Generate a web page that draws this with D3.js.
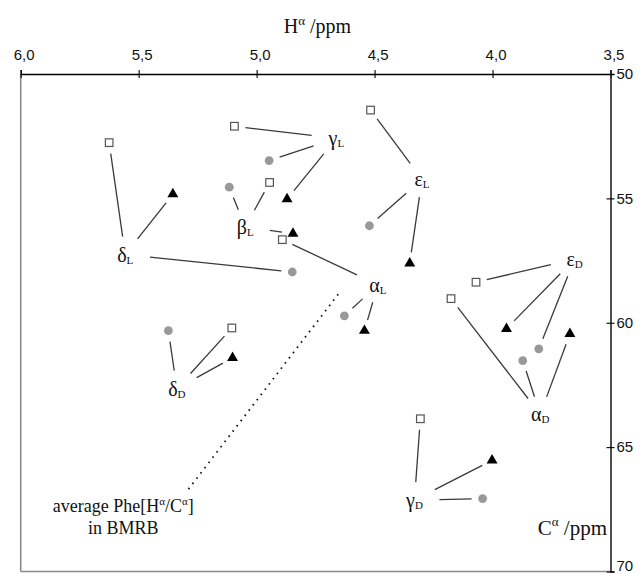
<!DOCTYPE html>
<html>
<head>
<meta charset="utf-8">
<script src="https://cdn.jsdelivr.net/npm/d3@7/dist/d3.min.js"></script>
<style>
  body { margin: 0; background: #fff; }
  svg { display: block; }
</style>
</head>
<body>
<svg id="chart" width="642" height="574"></svg>
<script>
// Conformer groups (one label per group, each tied to three markers)
const groupGreek = ["α", "β", "γ", "δ", "ε", "α", "γ", "δ", "ε"];
const groupSub   = ["L", "L", "L", "L", "L", "D", "D", "D", "D"];

// Label anchor (Hα ppm, Cα ppm) of each group name
const labelH = [4.486, 5.048, 4.662, 5.557, 4.299, 3.798, 4.331, 5.338, 3.652];
const labelC = [58.75, 56.43, 52.87, 57.54, 54.51, 63.96, 67.41, 62.93, 57.72];

// Open squares
const squareH = [4.891, 4.945, 5.094, 5.625, 4.517, 4.176, 4.306, 5.105, 4.070];
const squareC = [56.66, 54.36, 52.10, 52.76, 51.45, 59.03, 63.86, 60.21, 58.37];

// Grey circles
const circleH = [4.628, 5.116, 4.947, 4.849, 4.522, 3.872, 4.042, 5.374, 3.804];
const circleC = [59.72, 54.55, 53.48, 57.96, 56.10, 61.52, 67.07, 60.32, 61.05];

// Black triangles
const triangleH = [4.543, 4.846, 4.871, 5.355, 4.351, 3.672, 4.002, 5.102, 3.941];
const triangleC = [60.32, 56.42, 55.03, 54.83, 57.61, 60.45, 65.53, 61.41, 60.24];

// Dotted pointer towards the BMRB average
const bmrbH = [5.289, 4.653];
const bmrbC = [66.69, 58.84];

// Axis ticks
const hTicks = [6.0, 5.5, 5.0, 4.5, 4.0, 3.5];
const hTickLabels = ["6,0", "5,5", "5,0", "4,5", "4,0", "3,5"];
const cTicks = [50, 55, 60, 65, 70];

const svg = d3.select("#chart");
const serif = "'Liberation Serif', 'Times New Roman', serif";
const sans = "'Liberation Sans', Arial, sans-serif";

const x = d3.scaleLinear().domain([6.0, 3.5]).range([20.7, 610.5]);
const y = d3.scaleLinear().domain([50, 70]).range([74, 571.5]);

// Frame: grey left and bottom edges
svg.append("line")
  .attr("x1", x(6.0)).attr("x2", x(6.0))
  .attr("y1", y(50)).attr("y2", y(70))
  .attr("stroke", "#8a8a8a").attr("stroke-width", 1.6);
svg.append("line")
  .attr("x1", x(6.0)).attr("x2", x(3.5))
  .attr("y1", y(70)).attr("y2", y(70))
  .attr("stroke", "#8a8a8a").attr("stroke-width", 1.6);

// Top axis (Hα)
const topAxis = svg.append("g")
  .attr("transform", `translate(0,${y(50)})`)
  .call(d3.axisTop(x).tickValues(hTicks).tickSizeOuter(0).tickSize(4)
    .tickFormat((d, i) => hTickLabels[i]));
topAxis.select(".domain").attr("stroke", "#000").attr("stroke-width", 1.3);
topAxis.selectAll(".tick line").attr("y1", -4).attr("y2", 4)
  .attr("stroke", "#000").attr("stroke-width", 1.1);
topAxis.selectAll(".tick text")
  .attr("y", -14).attr("dx", 3)
  .attr("font-family", sans).attr("font-size", 15).attr("fill", "#111");

// Right axis (Cα)
const rightAxis = svg.append("g")
  .attr("transform", `translate(${x(3.5)},0)`)
  .call(d3.axisRight(y).tickValues(cTicks).tickSizeOuter(0).tickSize(4));
rightAxis.select(".domain").attr("stroke", "#222").attr("stroke-width", 1.6);
rightAxis.selectAll(".tick line").attr("x1", -4).attr("x2", 4)
  .attr("stroke", "#000").attr("stroke-width", 1.1);
rightAxis.selectAll(".tick text")
  .attr("x", 6)
  .attr("font-family", sans).attr("font-size", 15).attr("fill", "#111");
// keep the last label inside the page edge
rightAxis.selectAll(".tick text").filter(d => d === 70).attr("dy", "-0.05em");

// Axis titles
const hTitle = svg.append("text")
  .attr("x", 317.5).attr("y", 33)
  .attr("text-anchor", "middle")
  .attr("font-family", serif).attr("font-size", 20).attr("fill", "#111");
hTitle.append("tspan").text("H");
hTitle.append("tspan").attr("font-size", 13).attr("dy", -8).text("α");
hTitle.append("tspan").attr("dy", 8).text(" /ppm");

const cTitle = svg.append("text")
  .attr("x", 607).attr("y", 535)
  .attr("text-anchor", "end")
  .attr("font-family", serif).attr("font-size", 21).attr("fill", "#111");
cTitle.append("tspan").text("C");
cTitle.append("tspan").attr("font-size", 13).attr("dy", -9).text("α");
cTitle.append("tspan").attr("dy", 9).text(" /ppm");

// BMRB note and dotted pointer
svg.append("line")
  .attr("x1", x(bmrbH[0])).attr("y1", y(bmrbC[0]))
  .attr("x2", x(bmrbH[1])).attr("y2", y(bmrbC[1]))
  .attr("stroke", "#111").attr("stroke-width", 1.8)
  .attr("stroke-dasharray", "1.6 5");

const note1 = svg.append("text")
  .attr("x", 123.3).attr("y", 511.7)
  .attr("text-anchor", "middle")
  .attr("font-family", serif).attr("font-size", 18).attr("fill", "#111");
note1.append("tspan").text("average Phe[H");
note1.append("tspan").attr("font-size", 11).attr("dy", -7).text("α");
note1.append("tspan").attr("dy", 7).text("/C");
note1.append("tspan").attr("font-size", 11).attr("dy", -7).text("α");
note1.append("tspan").attr("dy", 7).text("]");
svg.append("text")
  .attr("x", 123.3).attr("y", 534.3)
  .attr("text-anchor", "middle")
  .attr("font-family", serif).attr("font-size", 18).attr("fill", "#111")
  .text("in BMRB");

// Connectors from each group label to its three markers
const groups = groupGreek.map((g, i) => ({
  greek: g, sub: groupSub[i],
  lx: x(labelH[i]), ly: y(labelC[i]) - 7,
  marks: [
    [x(squareH[i]), y(squareC[i])],
    [x(circleH[i]), y(circleC[i])],
    [x(triangleH[i]), y(triangleC[i])]
  ]
}));

const links = [];
groups.forEach(g => {
  g.marks.forEach(([mx, my]) => {
    const dx = mx - g.lx, dy = my - g.ly;
    const len = Math.hypot(dx, dy);
    const ux = dx / len, uy = dy / len;
    const r = 1 / Math.sqrt((ux / 25) ** 2 + (uy / 18) ** 2);
    links.push({
      x1: g.lx + ux * r, y1: g.ly + uy * r,
      x2: mx - ux * 11, y2: my - uy * 11
    });
  });
});

svg.append("g").selectAll("line").data(links).join("line")
  .attr("x1", d => d.x1).attr("y1", d => d.y1)
  .attr("x2", d => d.x2).attr("y2", d => d.y2)
  .attr("stroke", "#3a3a3a").attr("stroke-width", 1.3);

// Markers
const idx = d3.range(groupGreek.length);
svg.append("g").selectAll("rect").data(idx).join("rect")
  .attr("x", i => x(squareH[i]) - 3.8).attr("y", i => y(squareC[i]) - 3.8)
  .attr("width", 7.6).attr("height", 7.6)
  .attr("fill", "#fff").attr("stroke", "#555").attr("stroke-width", 1.2);

svg.append("g").selectAll("circle").data(idx).join("circle")
  .attr("cx", i => x(circleH[i])).attr("cy", i => y(circleC[i]))
  .attr("r", 4.4).attr("fill", "#999");

svg.append("g").selectAll("path").data(idx).join("path")
  .attr("transform", i => `translate(${x(triangleH[i])},${y(triangleC[i])})`)
  .attr("d", d3.symbol().type(d3.symbolTriangle).size(52))
  .attr("fill", "#000");

// Group labels
const lbl = svg.append("g").selectAll("text").data(groups).join("text")
  .attr("x", d => d.lx).attr("y", d => d.ly + 7)
  .attr("text-anchor", "middle")
  .attr("font-family", serif).attr("fill", "#111");
lbl.append("tspan").attr("font-size", 20).text(d => d.greek);
lbl.append("tspan").attr("font-size", 11).attr("dy", 2).text(d => d.sub);
</script>
</body>
</html>
